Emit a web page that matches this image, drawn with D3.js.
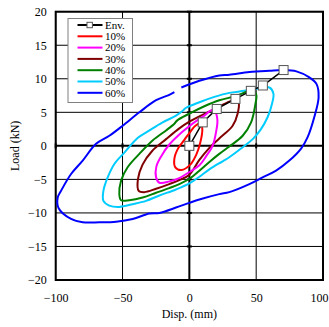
<!DOCTYPE html>
<html>
<head>
<meta charset="utf-8">
<script src="https://cdn.jsdelivr.net/npm/d3@7"></script>
<style>
  body { margin: 0; background: #fff; }
  svg { display: block; }
  text { font-family: "Liberation Serif", "Times New Roman", serif; fill: #000; }
</style>
</head>
<body>
<div id="chart"></div>
<script>
// legend / series
var seriesNames = ["10%", "20%", "30%", "40%", "50%", "60%"];
var seriesColors = ["#ff0000", "#ff00ff", "#800000", "#008000", "#00ccff", "#0000ff"];

// hysteresis loops, [disp (mm), load (kN)]
var loop10 = [[0.7,2.1],[4.5,3.0],[8.5,3.4],[9.7,2.5],[8.2,0.5],[5.2,-1.3],[0.7,-2.8],[-6.0,-3.6],[-10.5,-3.2],[-11.2,-1.9],[-8.2,-0.3],[-3.7,0.9]];
var loop20 = [[-1.5,2.7],[3.7,3.5],[11.2,4.5],[16.5,5.3],[19.5,5.0],[21.0,3.8],[20.2,2.3],[17.4,0.0],[12.7,-1.5],[7.5,-2.9],[0,-3.9],[-7.5,-4.8],[-15.0,-5.3],[-22.4,-5.5],[-24.9,-4.7],[-24.7,-3.1],[-20.9,-1.5],[-15.0,0.2],[-7.5,1.7]];
var loop30 = [[-7.5,2.6],[0,3.6],[7.5,4.4],[20.0,5.6],[29.9,6.6],[35.2,6.9],[36.9,6.5],[36.1,4.8],[32.4,3.0],[22.4,1.1],[15.0,-0.3],[7.5,-2.1],[0,-4.3],[-7.5,-5.1],[-15.0,-5.7],[-24.9,-6.4],[-33.7,-6.9],[-37.9,-6.7],[-38.5,-5.0],[-35.0,-2.8],[-28.0,-0.8],[-17.4,1.0]];
var loop40 = [[-9.0,3.8],[0,4.8],[11.2,5.9],[22.4,6.8],[34.4,7.4],[43.4,8.1],[47.9,8.3],[50.1,7.6],[49.4,6.2],[46.2,3.5],[39.9,1.5],[29.9,-0.1],[22.4,-1.2],[15.0,-2.4],[7.5,-3.7],[0,-4.9],[-7.5,-5.7],[-15.0,-6.3],[-24.9,-7.0],[-34.9,-7.7],[-44.9,-8.1],[-51.1,-8.1],[-52.4,-7.2],[-51.1,-5.2],[-46.2,-3.2],[-37.4,-1.2],[-27.5,0.8],[-17.4,2.3],[-11.2,3.3]];
var loop50 = [[-3.0,5.6],[7.5,6.5],[18.7,7.3],[29.9,7.9],[41.2,8.2],[52.4,8.6],[59.9,8.7],[62.9,7.8],[61.9,6.3],[58.6,4.3],[53.6,2.5],[47.4,1.0],[39.9,-0.2],[29.9,-1.7],[24.9,-2.3],[15.0,-3.5],[7.5,-4.6],[0,-5.6],[-10.0,-6.5],[-22.4,-7.4],[-32.4,-8.2],[-42.4,-8.7],[-52.4,-9.1],[-59.9,-8.9],[-64.3,-8.2],[-64.3,-6.7],[-61.1,-4.7],[-56.1,-2.7],[-48.6,-1.0],[-38.5,1.2],[-29.9,2.3],[-20.0,3.5],[-10.0,4.5],[-4.5,5.3]];
var loop60 = [[-6.0,8.7],[7.5,9.7],[22.4,10.5],[29.9,10.6],[44.9,11.0],[59.9,11.2],[70.3,11.3],[80.1,11.1],[89.8,10.2],[95.2,9.2],[96.7,7.2],[93.5,4.3],[88.5,1.3],[83.6,-0.4],[74.8,-2.2],[64.9,-3.7],[54.8,-4.7],[44.9,-5.7],[29.9,-6.9],[22.4,-7.2],[7.5,-8.0],[0,-8.5],[-10.0,-9.2],[-22.4,-10.0],[-29.9,-10.1],[-42.4,-10.9],[-54.8,-11.3],[-67.3,-11.4],[-79.8,-11.4],[-88.5,-10.9],[-97.8,-9.3],[-98.5,-7.7],[-96.0,-6.7],[-88.5,-4.2],[-79.8,-2.2],[-69.8,0.3],[-59.9,1.5],[-49.9,3.0],[-37.4,5.0],[-24.9,6.8],[-15.0,7.6],[-11.2,8.0]];
var loops = [loop10, loop20, loop30, loop40, loop50, loop60];

// envelope points
var envDisp = [0, 10, 20.5, 34.5, 46, 55, 70.5];
var envLoad = [0, 3.5, 5.5, 7, 8.2, 9, 11.3];

var xTicks = [-100, -50, 0, 50, 100];
var yTicks = [-20, -15, -10, -5, 0, 5, 10, 15, 20];

var width = 329, height = 327;
var margin = { top: 11.7, right: 6, bottom: 47, left: 55.7 };

var svg = d3.select("#chart").append("svg")
    .attr("width", width)
    .attr("height", height);

var x = d3.scaleLinear().domain([-100, 100]).range([margin.left, width - margin.right]);
var y = d3.scaleLinear().domain([-20, 20]).range([height - margin.bottom, margin.top]);

// grid
var grid = svg.append("g").attr("class", "grid");
grid.selectAll(".vline").data(xTicks).enter().append("line")
    .attr("x1", function (d) { return x(d); })
    .attr("x2", function (d) { return x(d); })
    .attr("y1", y(-20)).attr("y2", y(20))
    .attr("stroke", "#000")
    .attr("stroke-width", function (d) { return d === 0 ? 2 : 1; });
grid.selectAll(".hline").data(yTicks).enter().append("line")
    .attr("y1", function (d) { return y(d); })
    .attr("y2", function (d) { return y(d); })
    .attr("x1", x(-100)).attr("x2", x(100))
    .attr("stroke", "#000")
    .attr("stroke-width", function (d) { return d === 0 ? 2 : 1; });

// little tick nubs on the zero axes
grid.selectAll(".ytick").data(yTicks).enter().append("line")
    .attr("x1", x(0) - 2.5).attr("x2", x(0) + 2.5)
    .attr("y1", function (d) { return y(d); })
    .attr("y2", function (d) { return y(d); })
    .attr("stroke", "#000").attr("stroke-width", 2);
grid.selectAll(".xtick").data(xTicks).enter().append("line")
    .attr("y1", y(0) - 2.5).attr("y2", y(0) + 2.5)
    .attr("x1", function (d) { return x(d); })
    .attr("x2", function (d) { return x(d); })
    .attr("stroke", "#000").attr("stroke-width", 2);

// frame
svg.append("rect")
    .attr("x", x(-100)).attr("y", y(20))
    .attr("width", x(100) - x(-100))
    .attr("height", y(-20) - y(20))
    .attr("fill", "none")
    .attr("stroke", "#000")
    .attr("stroke-width", 2);

// axes labels (ticks only)
var xAxis = svg.append("g")
    .attr("transform", "translate(0," + y(-20) + ")")
    .call(d3.axisBottom(x).tickValues(xTicks).tickSize(0).tickPadding(13));
var yAxis = svg.append("g")
    .attr("transform", "translate(" + x(-100) + ",0)")
    .call(d3.axisLeft(y).tickValues(yTicks).tickSize(0).tickPadding(9));
[xAxis, yAxis].forEach(function (a) {
    a.select(".domain").remove();
    a.selectAll("text")
        .style("font-family", "'Liberation Serif', 'Times New Roman', serif")
        .style("font-size", "12px")
        .attr("fill", "#000");
});
// last x label sits against the right edge; keep it inside the page
xAxis.selectAll(".tick text")
    .filter(function (d) { return d === 100; })
    .attr("text-anchor", "end")
    .attr("x", width - 1 - x(100));

svg.append("text")
    .attr("x", x(0))
    .attr("y", 317.5)
    .attr("text-anchor", "middle")
    .style("font-size", "12px")
    .text("Disp. (mm)");

svg.append("text")
    .attr("transform", "translate(19," + y(0) + ") rotate(-90)")
    .attr("text-anchor", "middle")
    .style("font-size", "12px")
    .text("Load (kN)");

// loops
var line = d3.line()
    .x(function (d) { return x(d[0]); })
    .y(function (d) { return y(d[1]); })
    .curve(d3.curveCatmullRom.alpha(0.5));
var closedLine = d3.line()
    .x(function (d) { return x(d[0]); })
    .y(function (d) { return y(d[1]); })
    .curve(d3.curveCatmullRomClosed.alpha(0.5));

var plot = svg.append("g");
for (var i = loops.length - 1; i >= 0; i--) {
    plot.append("path")
        .datum(loops[i])
        .attr("d", i === 5 ? line : closedLine)
        .attr("fill", "none")
        .attr("stroke", seriesColors[i])
        .attr("stroke-width", 2)
        .attr("stroke-linejoin", "round");
}

// envelope
var envPts = envDisp.map(function (d, i) { return [d, envLoad[i]]; });
plot.append("path")
    .datum(envPts)
    .attr("d", d3.line().x(function (d) { return x(d[0]); }).y(function (d) { return y(d[1]); }))
    .attr("fill", "none")
    .attr("stroke", "#000")
    .attr("stroke-width", 1.5);
plot.selectAll(".env").data(envPts).enter().append("rect")
    .attr("x", function (d) { return x(d[0]) - 4.5; })
    .attr("y", function (d) { return y(d[1]) - 4.5; })
    .attr("width", 9).attr("height", 9)
    .attr("fill", "#fff")
    .attr("stroke", "#555")
    .attr("stroke-width", 1);

// legend
var legend = svg.append("g");
legend.append("rect")
    .attr("x", 68).attr("y", 18.5)
    .attr("width", 64.5).attr("height", 84)
    .attr("fill", "#fff")
    .attr("stroke", "#808080")
    .attr("stroke-width", 1);

var legItems = [{ name: "Env.", color: "#000", env: true }].concat(seriesNames.map(function (n, i) {
    return { name: n, color: seriesColors[i] };
}));
var rows = legend.selectAll(".row").data(legItems).enter().append("g")
    .attr("transform", function (d, i) { return "translate(0," + (25 + i * 11.3) + ")"; });
rows.append("line")
    .attr("x1", 77.5).attr("x2", 102.5)
    .attr("stroke", function (d) { return d.color; })
    .attr("stroke-width", 2);
rows.filter(function (d) { return d.env; }).append("rect")
    .attr("x", 87).attr("y", -2.7)
    .attr("width", 5.4).attr("height", 5.4)
    .attr("fill", "#fff").attr("stroke", "#555");
rows.append("text")
    .attr("x", 105)
    .attr("dy", "0.35em")
    .style("font-size", "11px")
    .text(function (d) { return d.name; });
</script>
</body>
</html>
